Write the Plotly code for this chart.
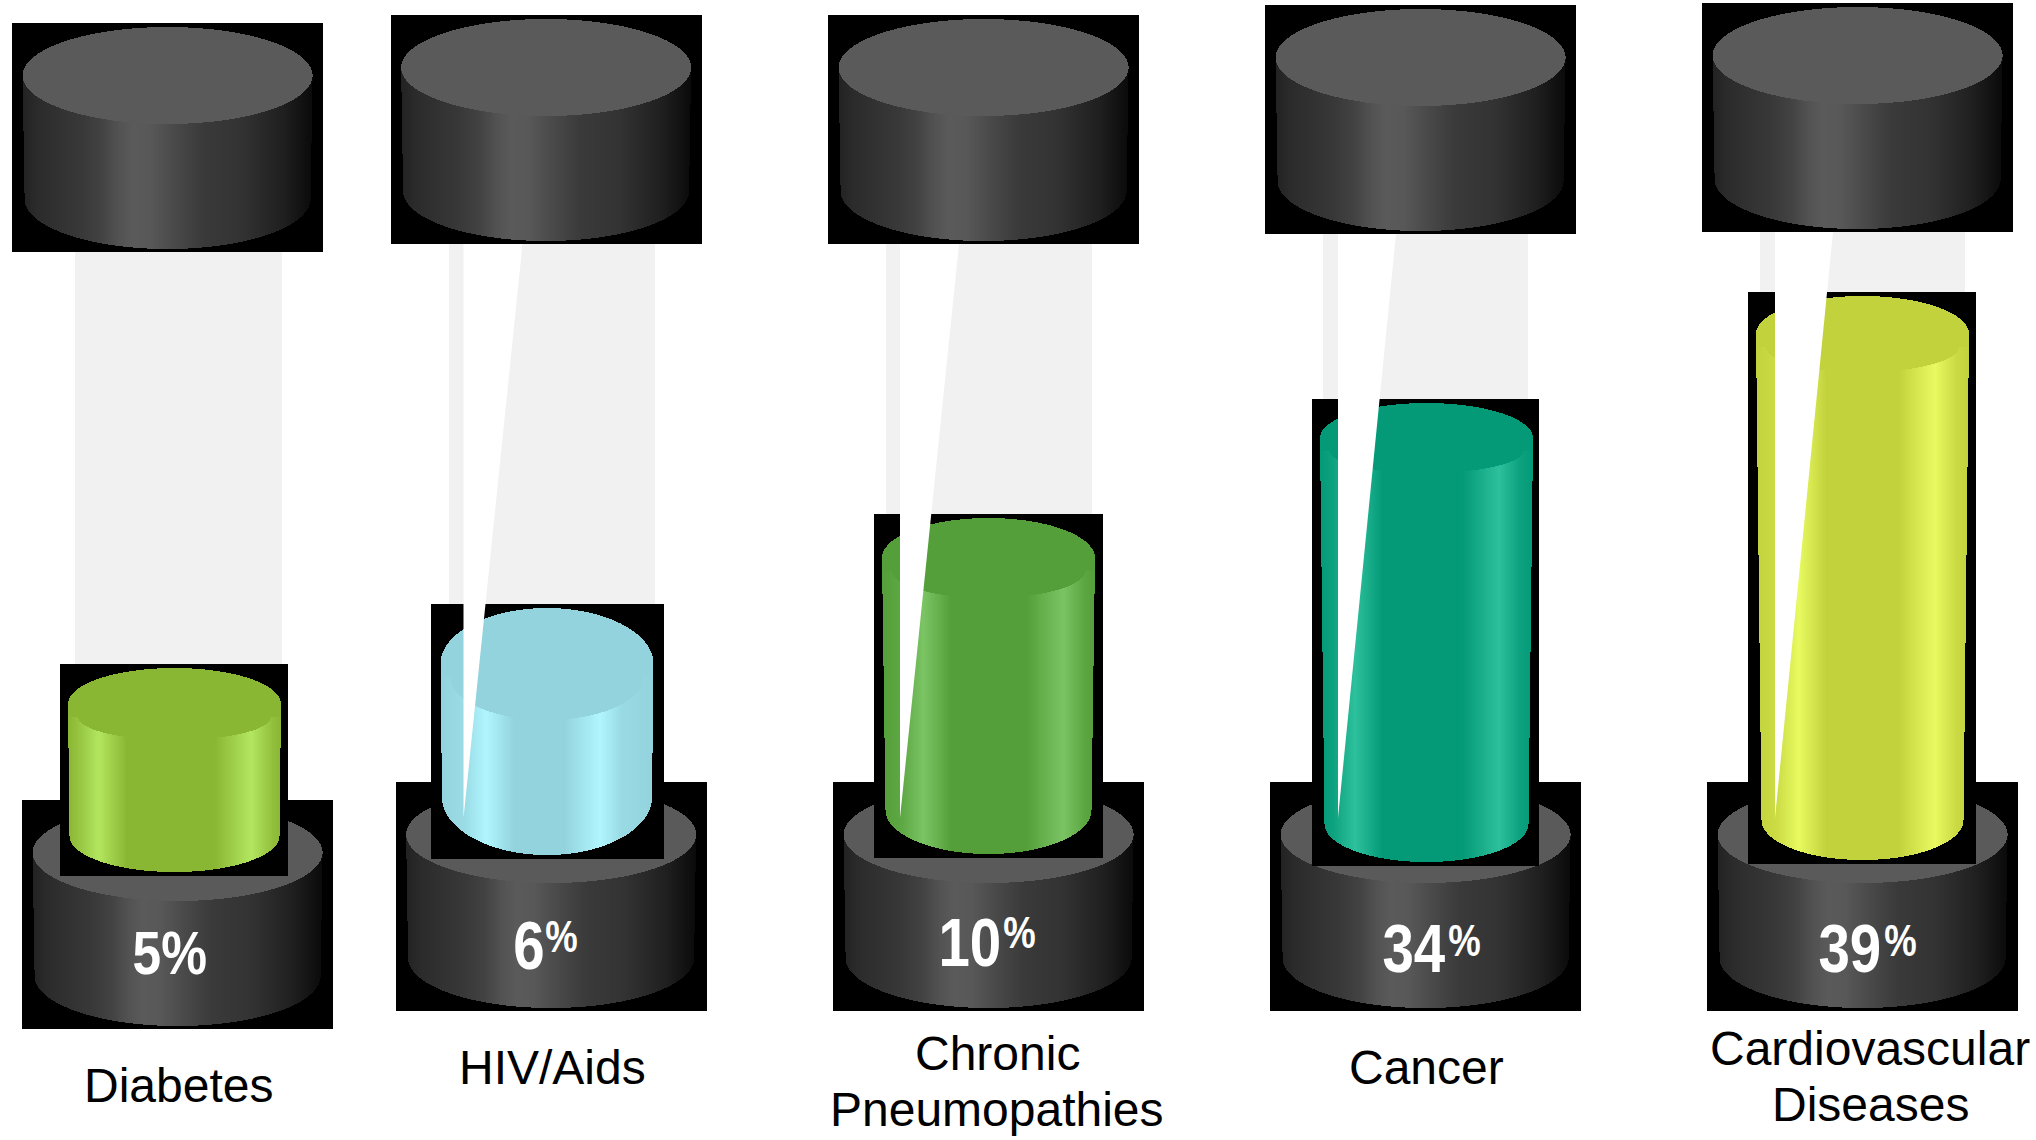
import numpy as np
import plotly.graph_objects as go

# Chart data
categories = ["Diabetes", "HIV/Aids", "Chronic<br>Pneumopathies", "Cancer", "Cardiovascular<br>Diseases"]
values = [5, 6, 10, 34, 39]

# Gauge level scale: percentage to the y pixel of the liquid surface (not linear on this infographic)
scale_pct = [5, 6, 10, 34, 39]
scale_surface_y = [668, 608, 518, 403, 296]

fill_base = ["#8AB733", "#93D3DE", "#559F3A", "#049977", "#C2D23C"]
fill_glow = ["#B3E660", "#B0F6FF", "#7AC464", "#2DC09C", "#E8FA60"]

# Per-gauge layout, in page pixels
cap_xy = [(12, 23), (390.5, 15), (828, 15), (1265, 5), (1702, 3)]
base_xy = [(22, 800), (395.5, 782), (833, 782), (1270, 782), (1707, 782)]
fill_x = [68, 440.5, 882, 1320, 1756]
fill_w_bot = [210, 210, 206, 204, 202]
fill_box_x = [(60, 288), (431, 664), (874, 1103), (1311.5, 1539), (1748, 1976)]
fill_floor = [872, 855, 854, 862, 860]
fill_ry_top = [36, 56, 40, 35, 38]
fill_ry_bot = [36, 58, 44, 38, 40]
glow_u = [(0.145, 0.86), (0.215, 0.75), (0.195, 0.85), (0.165, 0.84), (0.20, 0.84)]
tube_x = [(75, 282), (448.5, 655), (886, 1092), (1323, 1528), (1760, 1965)]
slit = [None, (463.5, 522.5), (900, 959), (1338, 1396), (1775, 1833)]
slit_tip_y = 818
label_xy = [(178, 1085), (552, 1067), (997, 1081), (1426, 1067), (1870, 1076)]
pct_xy = [(170, 952), (529, 945), (970, 942), (1414, 948), (1850, 948)]
sup_xy = [None, (561, 936), (1019, 932), (1464, 940), (1900, 940)]

GREY_STOPS = [(0.0, 0x22), (0.05, 0x2b), (0.2, 0x38), (0.27, 0x42), (0.33, 0x52), (0.38, 0x5a),
              (0.44, 0x58), (0.52, 0x4a), (0.62, 0x3a), (0.75, 0x33), (0.9, 0x1f), (1.0, 0x0a)]


def rgb(h):
    return np.array([int(h[i:i + 2], 16) for i in (1, 3, 5)], float)


def hexcol(c):
    return "rgb({},{},{})".format(*[int(round(v)) for v in c])


def add_bars(fig, xs, tops, bottoms, colors, width=1.0):
    fig.add_trace(go.Bar(
        x=xs, base=tops, y=np.asarray(bottoms) - np.asarray(tops), width=width,
        marker=dict(color=colors, line=dict(width=0)), hoverinfo="skip",
        showlegend=False,
    ))


def add_box(fig, x0, x1, y0, y1, color="#000000"):
    add_bars(fig, [(x0 + x1) / 2], [y0], [y1], [color], width=x1 - x0)


def add_cylinder(fig, x0, w_top, w_bot, y_top, y_bot, ry_top, ry_bot, side_color, face_color, lens):
    """Column by column: shaded wall with a rounded foot, flat face on top."""
    cx = x0 + w_top / 2
    rx_t, rx_b = w_top / 2, w_bot / 2
    cy_t, cy_b = y_top + ry_top, y_bot - ry_bot
    xs = np.arange(int(np.floor(x0)), int(np.ceil(x0 + w_top))) + 0.5
    keep = np.abs(xs - cx) < rx_t
    xs = xs[keep]
    dx = np.abs(xs - cx)
    wall_top = cy_t - ry_top * np.sqrt(np.clip(1 - (dx / rx_t) ** 2, 0, 1))
    wall_bot = np.where(
        dx <= rx_b,
        cy_b + ry_bot * np.sqrt(np.clip(1 - (dx / rx_b) ** 2, 0, 1)),
        cy_t + (rx_t - dx) / max(rx_t - rx_b, 1e-6) * (cy_b - cy_t),
    )
    u = (xs - x0) / w_top
    add_bars(fig, xs, wall_top, wall_bot, [side_color(v) for v in u])
    inner = rx_t - (10 if lens else 0)
    face_bot = cy_t + lens + (ry_top - lens) * np.sqrt(np.clip(1 - (dx / inner) ** 2, 0, 1))
    face_bot = np.minimum(face_bot, wall_bot)
    add_bars(fig, xs, wall_top, face_bot, [face_color] * len(xs))


def grey_side(u):
    p, g = zip(*GREY_STOPS)
    v = np.interp(u, p, g)
    return hexcol((v, v, v))


def fill_side(base, glow, pair):
    b, g = rgb(base), rgb(glow)
    ul, ur = pair

    def f(u):
        t = np.interp(u, [0.0, ul - 0.10, ul, ul + 0.13, ur - 0.17, ur, ur + 0.10, 1.0],
                      [0.0, 0.25, 1.0, 0.0, 0.0, 1.0, 0.2, 0.0])
        return hexcol(b + (g - b) * t)
    return f


fig = go.Figure()
CAP_W, CAP_H = 311, 229
GREY_FACE = "#5a5a5a"


def add_grey_drum(fig, xy):
    x, y = xy
    add_box(fig, x, x + CAP_W, y, y + CAP_H)
    add_cylinder(fig, x + 10.6, 290, 286, y + 4, y + 226, 48.5, 50, grey_side, GREY_FACE, 0)


surface_y = np.interp(values, scale_pct, scale_surface_y)

for i in range(len(categories)):
    cap_x, cap_y = cap_xy[i]
    tx0, tx1 = tube_x[i]
    add_box(fig, tx0, tx1, cap_y + CAP_H, surface_y[i], "#f1f1f1")

    add_grey_drum(fig, base_xy[i])

    bx0, bx1 = fill_box_x[i]
    add_box(fig, bx0, bx1, surface_y[i] - 4, fill_floor[i] + 4)
    add_cylinder(fig, fill_x[i], 213, fill_w_bot[i], surface_y[i], fill_floor[i],
                 fill_ry_top[i], fill_ry_bot[i],
                 fill_side(fill_base[i], fill_glow[i], glow_u[i]), fill_base[i], 13)

    # White sliver crossing the tube and the liquid
    if slit[i] is not None:
        left, right = slit[i]
        fig.add_trace(go.Scatter(
            x=[left, right, left, left],
            y=[cap_y + CAP_H, cap_y + CAP_H, slit_tip_y, cap_y + CAP_H],
            mode="lines", fill="toself", fillcolor="#ffffff",
            line=dict(width=0, color="#ffffff"), hoverinfo="skip", showlegend=False,
        ))

    add_grey_drum(fig, cap_xy[i])

annotations = []
LABEL_FONT = dict(family="Liberation Sans", size=48, color="#000000")
LINE_GAP = 56
for i, cat in enumerate(categories):
    lines = cat.split("<br>")
    lx, ly = label_xy[i]
    for k, line in enumerate(lines):
        annotations.append(dict(
            x=lx, y=ly + (k - (len(lines) - 1) / 2) * LINE_GAP, text=line, showarrow=False,
            xanchor="center", yanchor="middle", font=LABEL_FONT,
        ))

    px, py = pct_xy[i]
    if sup_xy[i] is None:
        annotations.append(dict(
            x=px, y=py, text=f"<b>{values[i]}%</b>", showarrow=False,
            xanchor="center", yanchor="middle",
            font=dict(family="Liberation Sans", size=62, color="#ffffff"),
        ))
    else:
        annotations.append(dict(
            x=px, y=py, text=f"<b>{values[i]}</b>", showarrow=False,
            xanchor="center", yanchor="middle",
            font=dict(family="Liberation Sans", size=68, color="#ffffff"),
        ))
        sx, sy = sup_xy[i]
        annotations.append(dict(
            x=sx, y=sy, text="<b>%</b>", showarrow=False,
            xanchor="center", yanchor="middle",
            font=dict(family="Liberation Sans", size=44, color="#ffffff"),
        ))

fig.update_layout(
    width=2036, height=1140, autosize=False,
    margin=dict(l=0, r=0, t=0, b=0),
    paper_bgcolor="#ffffff", plot_bgcolor="#ffffff",
    barmode="overlay", bargap=0,
    xaxis=dict(range=[0, 2036], visible=False, fixedrange=True),
    yaxis=dict(range=[1140, 0], visible=False, fixedrange=True),
    annotations=annotations, showlegend=False,
)

# The figures on the drums use a condensed bold cut: scale each one horizontally about its centre
CONDENSE = """
document.querySelectorAll('text.annotation-text').forEach(function (t) {
  if (/bold/.test(t.innerHTML)) {
    var b = t.getBBox();
    var c = b.x + b.width / 2;
    var k = 0.83;
    t.setAttribute('transform', 'translate(' + (c * (1 - k)) + ',0) scale(' + k + ',1)');
  }
});
"""

fig.write_html("out.html", config={"displayModeBar": False}, post_script=CONDENSE)
